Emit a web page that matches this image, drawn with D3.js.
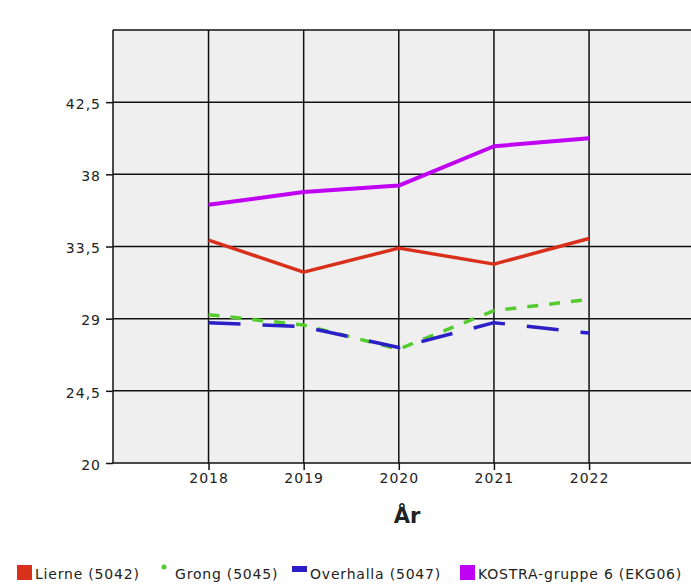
<!DOCTYPE html>
<html lang="no">
<head>
  <meta charset="UTF-8">
  <title>KOSTRA</title>
  <script src="https://d3js.org/d3.v7.min.js"></script>
  <style>
    body { margin: 0; background: #fff; font-family: "DejaVu Sans", Verdana, sans-serif; }
    .tick text { font-size: 14px; letter-spacing: 1px; fill: #222; font-family: "DejaVu Sans", Verdana, sans-serif; }
    .tick line { stroke: #111; stroke-width: 1.5px; }
    .domain { display: none; }
    .legend text { font-size: 14px; letter-spacing: 0.8px; fill: #222; }
  </style>
</head>
<body>
  <div id="chart"></div>
  <script>
    const years = [2018, 2019, 2020, 2021, 2022];
    const yTicks = [20, 24.5, 29, 33.5, 38, 42.5];
    const seriesNames = ["Lierne (5042)", "Grong (5045)", "Overhalla (5047)", "KOSTRA-gruppe 6 (EKG06)"];
    const lierne = [33.9, 31.9, 33.4, 32.4, 34.0];
    const grong = [29.25, 28.6, 27.1, 29.5, 30.2];
    const overhalla = [28.75, 28.5, 27.2, 28.75, 28.1];
    const kostra = [36.1, 36.9, 37.3, 39.75, 40.25];

    const width = 691, height = 586;
    const plotLeft = 113, plotTop = 30, plotBottom = 463, plotRight = 691;

    const series = [
      { name: seriesNames[0], values: lierne, color: "#d9301c", dash: null, width: 3.5 },
      { name: seriesNames[1], values: grong, color: "#55cc2e", dash: "11,11", width: 3.5 },
      { name: seriesNames[2], values: overhalla, color: "#2b1fc8", dash: "32,22", width: 3.5 },
      { name: seriesNames[3], values: kostra, color: "#c000f2", dash: null, width: 4 }
    ];

    const svg = d3.select("#chart").append("svg")
      .attr("width", width)
      .attr("height", height);

    const x = d3.scaleLinear().domain([2017, 2023]).range([113.4, 684.2]);
    const y = d3.scaleLinear().domain([20, 47]).range([plotBottom, plotTop]);

    // plot background
    svg.append("rect")
      .attr("x", plotLeft).attr("y", plotTop)
      .attr("width", plotRight - plotLeft).attr("height", plotBottom - plotTop)
      .attr("fill", "#efefef");

    // grid
    svg.append("g").selectAll("line")
      .data(yTicks)
      .join("line")
      .attr("x1", plotLeft).attr("x2", plotRight)
      .attr("y1", d => y(d)).attr("y2", d => y(d))
      .attr("stroke", "#111").attr("stroke-width", 1.5);

    svg.append("g").selectAll("line")
      .data(years)
      .join("line")
      .attr("x1", d => x(d)).attr("x2", d => x(d))
      .attr("y1", plotTop).attr("y2", plotBottom)
      .attr("stroke", "#111").attr("stroke-width", 1.5);

    // border top and left
    svg.append("line").attr("x1", plotLeft).attr("x2", plotRight).attr("y1", plotTop).attr("y2", plotTop)
      .attr("stroke", "#111").attr("stroke-width", 1.5);
    svg.append("line").attr("x1", plotLeft).attr("x2", plotLeft).attr("y1", plotTop).attr("y2", plotBottom)
      .attr("stroke", "#111").attr("stroke-width", 1.5);

    // axes
    svg.append("g")
      .attr("transform", `translate(${plotLeft},0)`)
      .call(d3.axisLeft(y).tickValues(yTicks).tickSize(7).tickPadding(5)
        .tickFormat(d => String(d).replace(".", ",")))
      .selectAll("text").attr("dy", "0.45em");

    svg.append("g")
      .attr("transform", `translate(0,${plotBottom})`)
      .call(d3.axisBottom(x).tickValues(years).tickSize(7).tickPadding(3).tickFormat(d3.format("d")));

    // axis title
    svg.append("text")
      .attr("x", 407).attr("y", 523)
      .attr("text-anchor", "middle")
      .style("font-size", "21px")
      .style("font-weight", "bold")
      .style("fill", "#222")
      .text("År");

    // lines
    const line = d3.line()
      .x((d, i) => x(years[i]))
      .y(d => y(d));

    svg.append("g").selectAll("path")
      .data(series)
      .join("path")
      .attr("d", d => line(d.values))
      .attr("fill", "none")
      .attr("stroke", d => d.color)
      .attr("stroke-width", d => d.width)
      .attr("stroke-dasharray", d => d.dash)
      .attr("stroke-linejoin", "round");

    // legend (symbol x positions as in the original layout)
    const legendX = [17, 157, 292, 460];
    const legend = svg.append("g").attr("class", "legend");
    series.forEach((s, i) => {
      const lx = legendX[i];
      if (i === 0 || i === 3) {
        legend.append("rect").attr("x", lx).attr("y", 565).attr("width", 15).attr("height", 15).attr("fill", s.color);
      } else if (i === 1) {
        legend.append("circle").attr("cx", lx + 7).attr("cy", 567).attr("r", 2.5).attr("fill", s.color);
      } else {
        legend.append("rect").attr("x", lx).attr("y", 566).attr("width", 15).attr("height", 6).attr("fill", s.color);
      }
      legend.append("text")
        .attr("x", lx + 18).attr("y", 579)
        .text(s.name);
    });
  </script>
</body>
</html>
